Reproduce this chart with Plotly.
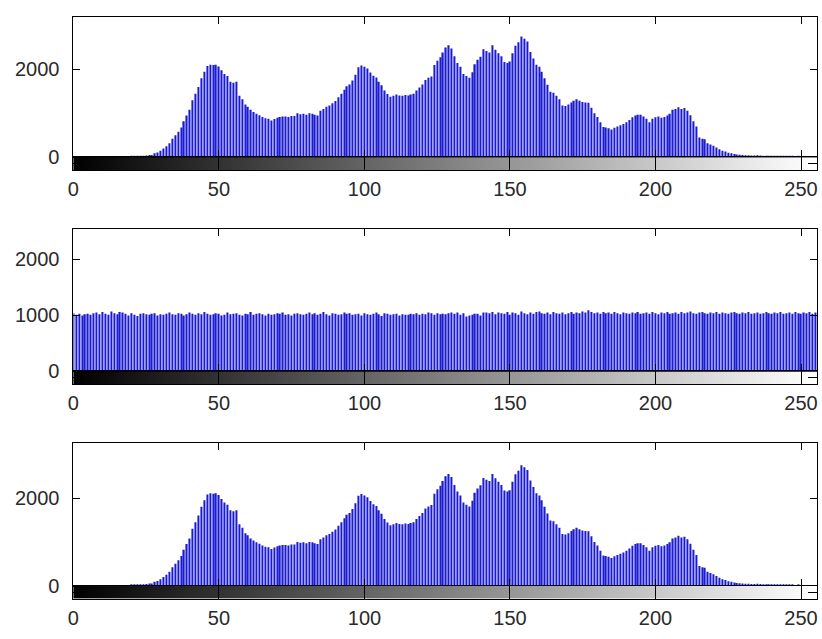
import plotly.graph_objects as go

W, H = 822, 639

bins = list(range(256))
gray_levels = list(range(256))

counts_orig = [
    0, 0, 0, 0, 0, 0, 0, 0, 0, 0, 0, 0, 0, 0, 0, 0,
    0, 0, 0, 0, 20, 30, 30, 30, 25, 40, 50, 50, 90, 110, 150, 200,
    250, 320, 420, 500, 580, 680, 820, 950, 1080, 1300, 1450, 1600, 1800, 1950, 2080, 2110,
    2100, 2110, 2070, 1980, 1900, 1850, 1720, 1700, 1720, 1400, 1320, 1200, 1150, 1080, 1030, 990,
    960, 920, 890, 880, 840, 870, 900, 920, 930, 930, 920, 940, 940, 1000, 980, 990,
    970, 1000, 990, 970, 950, 1060, 1100, 1150, 1180, 1230, 1280, 1370, 1450, 1540, 1620, 1660,
    1750, 1880, 2050, 2090, 2060, 2020, 1930, 1860, 1820, 1720, 1640, 1520, 1440, 1380, 1400, 1430,
    1410, 1400, 1420, 1410, 1430, 1450, 1520, 1590, 1660, 1760, 1810, 1840, 2100, 2200, 2280, 2390,
    2500, 2550, 2480, 2300, 2150, 2060, 1900, 1850, 1810, 1940, 2120, 2220, 2290, 2460, 2420, 2390,
    2550, 2450, 2370, 2300, 2170, 2150, 2180, 2370, 2540, 2620, 2750, 2700, 2640, 2400, 2250, 2110,
    2060, 1950, 1800, 1650, 1490, 1470, 1400, 1320, 1180, 1170, 1200, 1250, 1290, 1320, 1290, 1260,
    1250, 1240, 1130, 1000, 920, 800, 690, 680, 660, 630, 670, 700, 730, 760, 800, 850,
    910, 950, 970, 970, 930, 880, 800, 880, 910, 930, 900, 920, 950, 990, 1080, 1100,
    1140, 1100, 1120, 1060, 960, 820, 700, 450, 420, 410, 320, 290, 260, 220, 180, 150,
    130, 100, 90, 75, 65, 55, 50, 45, 45, 40, 40, 45, 40, 35, 30, 30,
    25, 30, 30, 25, 20, 15, 15, 15, 10, 15, 10, 5, 5, 5, 5, 0,
]

counts_equalized = [
    1040, 1010, 1030, 1000, 1020, 1030, 1010, 1040, 1050, 1020, 1060, 1030, 1010, 1070, 1040, 1020,
    1060, 1050, 1030, 1000, 1040, 1010, 990, 1030, 1040, 1020, 1010, 1030, 1040, 1000, 1020, 1010,
    1030, 1050, 1020, 1010, 1040, 1030, 1000, 1020, 1050, 1030, 1010, 1040, 1020, 1060, 1030, 1010,
    1020, 1040, 1030, 1000, 1010, 1050, 1020, 1030, 1040, 1010, 1000, 1030, 1020, 1060, 1010, 1030,
    1040, 1020, 1000, 1030, 1010, 1020, 1040, 1030, 1050, 1010, 1020, 1000, 1030, 1040, 1020, 1010,
    1030, 1050, 1020, 1040, 1010, 1030, 1060, 1020, 1000, 1040, 1030, 1010, 1020, 1050, 1030, 1040,
    1010, 1020, 1030, 1000, 1040, 1020, 1010, 1030, 1050, 1020, 990, 1040, 1030, 1010, 1020, 1030,
    1000, 1020, 1010, 1010, 1030, 1020, 1040, 1010, 1030, 1020, 1050, 1040, 1010, 1040, 1020, 1030,
    1020, 1040, 1050, 1030, 1050, 1010, 1040, 980, 1000, 1010, 1030, 1030, 1000, 1050, 1050, 1040,
    1060, 1020, 1050, 1040, 1030, 1060, 1010, 1050, 1040, 1010, 1070, 1040, 1020, 1050, 1030, 1060,
    1070, 1040, 1030, 1050, 1020, 1060, 1040, 1030, 1050, 1020, 1040, 1060, 1030, 1050, 1040, 1070,
    1050, 1090, 1060, 1040, 1050, 1030, 1060, 1040, 1050, 1030, 1060, 1040, 1020, 1050, 1040, 1030,
    1050, 1040, 1060, 1030, 1040, 1050, 1030, 1060, 1040, 1020, 1050, 1040, 1060, 1030, 1040, 1050,
    1030, 1060, 1040, 1050, 1070, 1040, 1030, 1050, 1060, 1040, 1030, 1050, 1040, 1060, 1030, 1050,
    1040, 1030, 1050, 1060, 1040, 1030, 1050, 1040, 1060, 1030, 1040, 1050, 1030, 1040, 1060, 1040,
    1030, 1050, 1040, 1060, 1030, 1040, 1050, 1030, 1060, 1040, 1030, 1050, 1040, 1060, 1030, 1050,
]

counts_matched = list(counts_orig)

x_ticks = [0, 50, 100, 150, 200, 250]
y_ticks = [[0, 2000], [0, 1000, 2000], [0, 2000]]
y_max = [3203, 2540, 3250]
series = [counts_orig, counts_equalized, counts_matched]

# panel geometry in pixels
tops = [17, 233, 451]
zeros = [160, 378, 596]
bottoms = [173, 391, 609]
xl, xr = 68, 818


def py(p):
    return 1 - p / H


font = dict(family="Liberation Sans, Arial", size=20, color="#2a2a2a")
fig = go.Figure()
layout = dict(width=W, height=H, margin=dict(l=0, r=0, t=0, b=0),
              plot_bgcolor="white", paper_bgcolor="white", showlegend=False, font=font)

for i in range(3):
    hx = 2 * i + 1
    sx = 2 * i + 2
    hname = "" if hx == 1 else str(hx)
    sname = str(sx)
    fig.add_trace(go.Bar(x=bins, y=series[i], width=0.45, marker_color="#1a1ad2",
                         marker_line_width=0, xaxis="x" + hname, yaxis="y" + hname,
                         hoverinfo="skip"))
    fig.add_trace(go.Heatmap(z=[gray_levels], x=gray_levels, y=[0], zmin=0, zmax=255,
                             colorscale=[[0, "#000000"], [1, "#ffffff"]], showscale=False,
                             xaxis="x" + sname, yaxis="y" + sname, hoverinfo="skip"))
    common_x = dict(range=[0, 255.5], domain=[xl / W, xr / W], tickvals=x_ticks,
                    showgrid=False, zeroline=False, showline=True, linecolor="black",
                    linewidth=1, ticks="inside", tickcolor="black")
    layout["xaxis" + hname] = dict(common_x, anchor="y" + hname, ticklen=7, mirror="ticks",
                                   showticklabels=False)
    layout["yaxis" + hname] = dict(range=[0, y_max[i]], domain=[py(zeros[i]), py(tops[i])],
                                   tickvals=y_ticks[i], anchor="x" + hname, showgrid=False,
                                   zeroline=False, showline=True, linecolor="black", linewidth=1,
                                   ticks="inside", ticklen=7, tickcolor="black", mirror="ticks",
                                   ticklabelstandoff=9)
    layout["xaxis" + sname] = dict(common_x, anchor="y" + sname, ticklen=13, mirror=True,
                                   showticklabels=True, ticklabelstandoff=1)
    layout["yaxis" + sname] = dict(range=[-0.5, 0.5], domain=[py(bottoms[i]), py(zeros[i])],
                                   tickvals=[0], showticklabels=False, anchor="x" + sname,
                                   showgrid=False, zeroline=False, showline=True, linecolor="black",
                                   linewidth=1, ticks="inside", ticklen=9, tickcolor="black",
                                   mirror="ticks")

fig.update_layout(**layout)
fig.write_html("out.html")
